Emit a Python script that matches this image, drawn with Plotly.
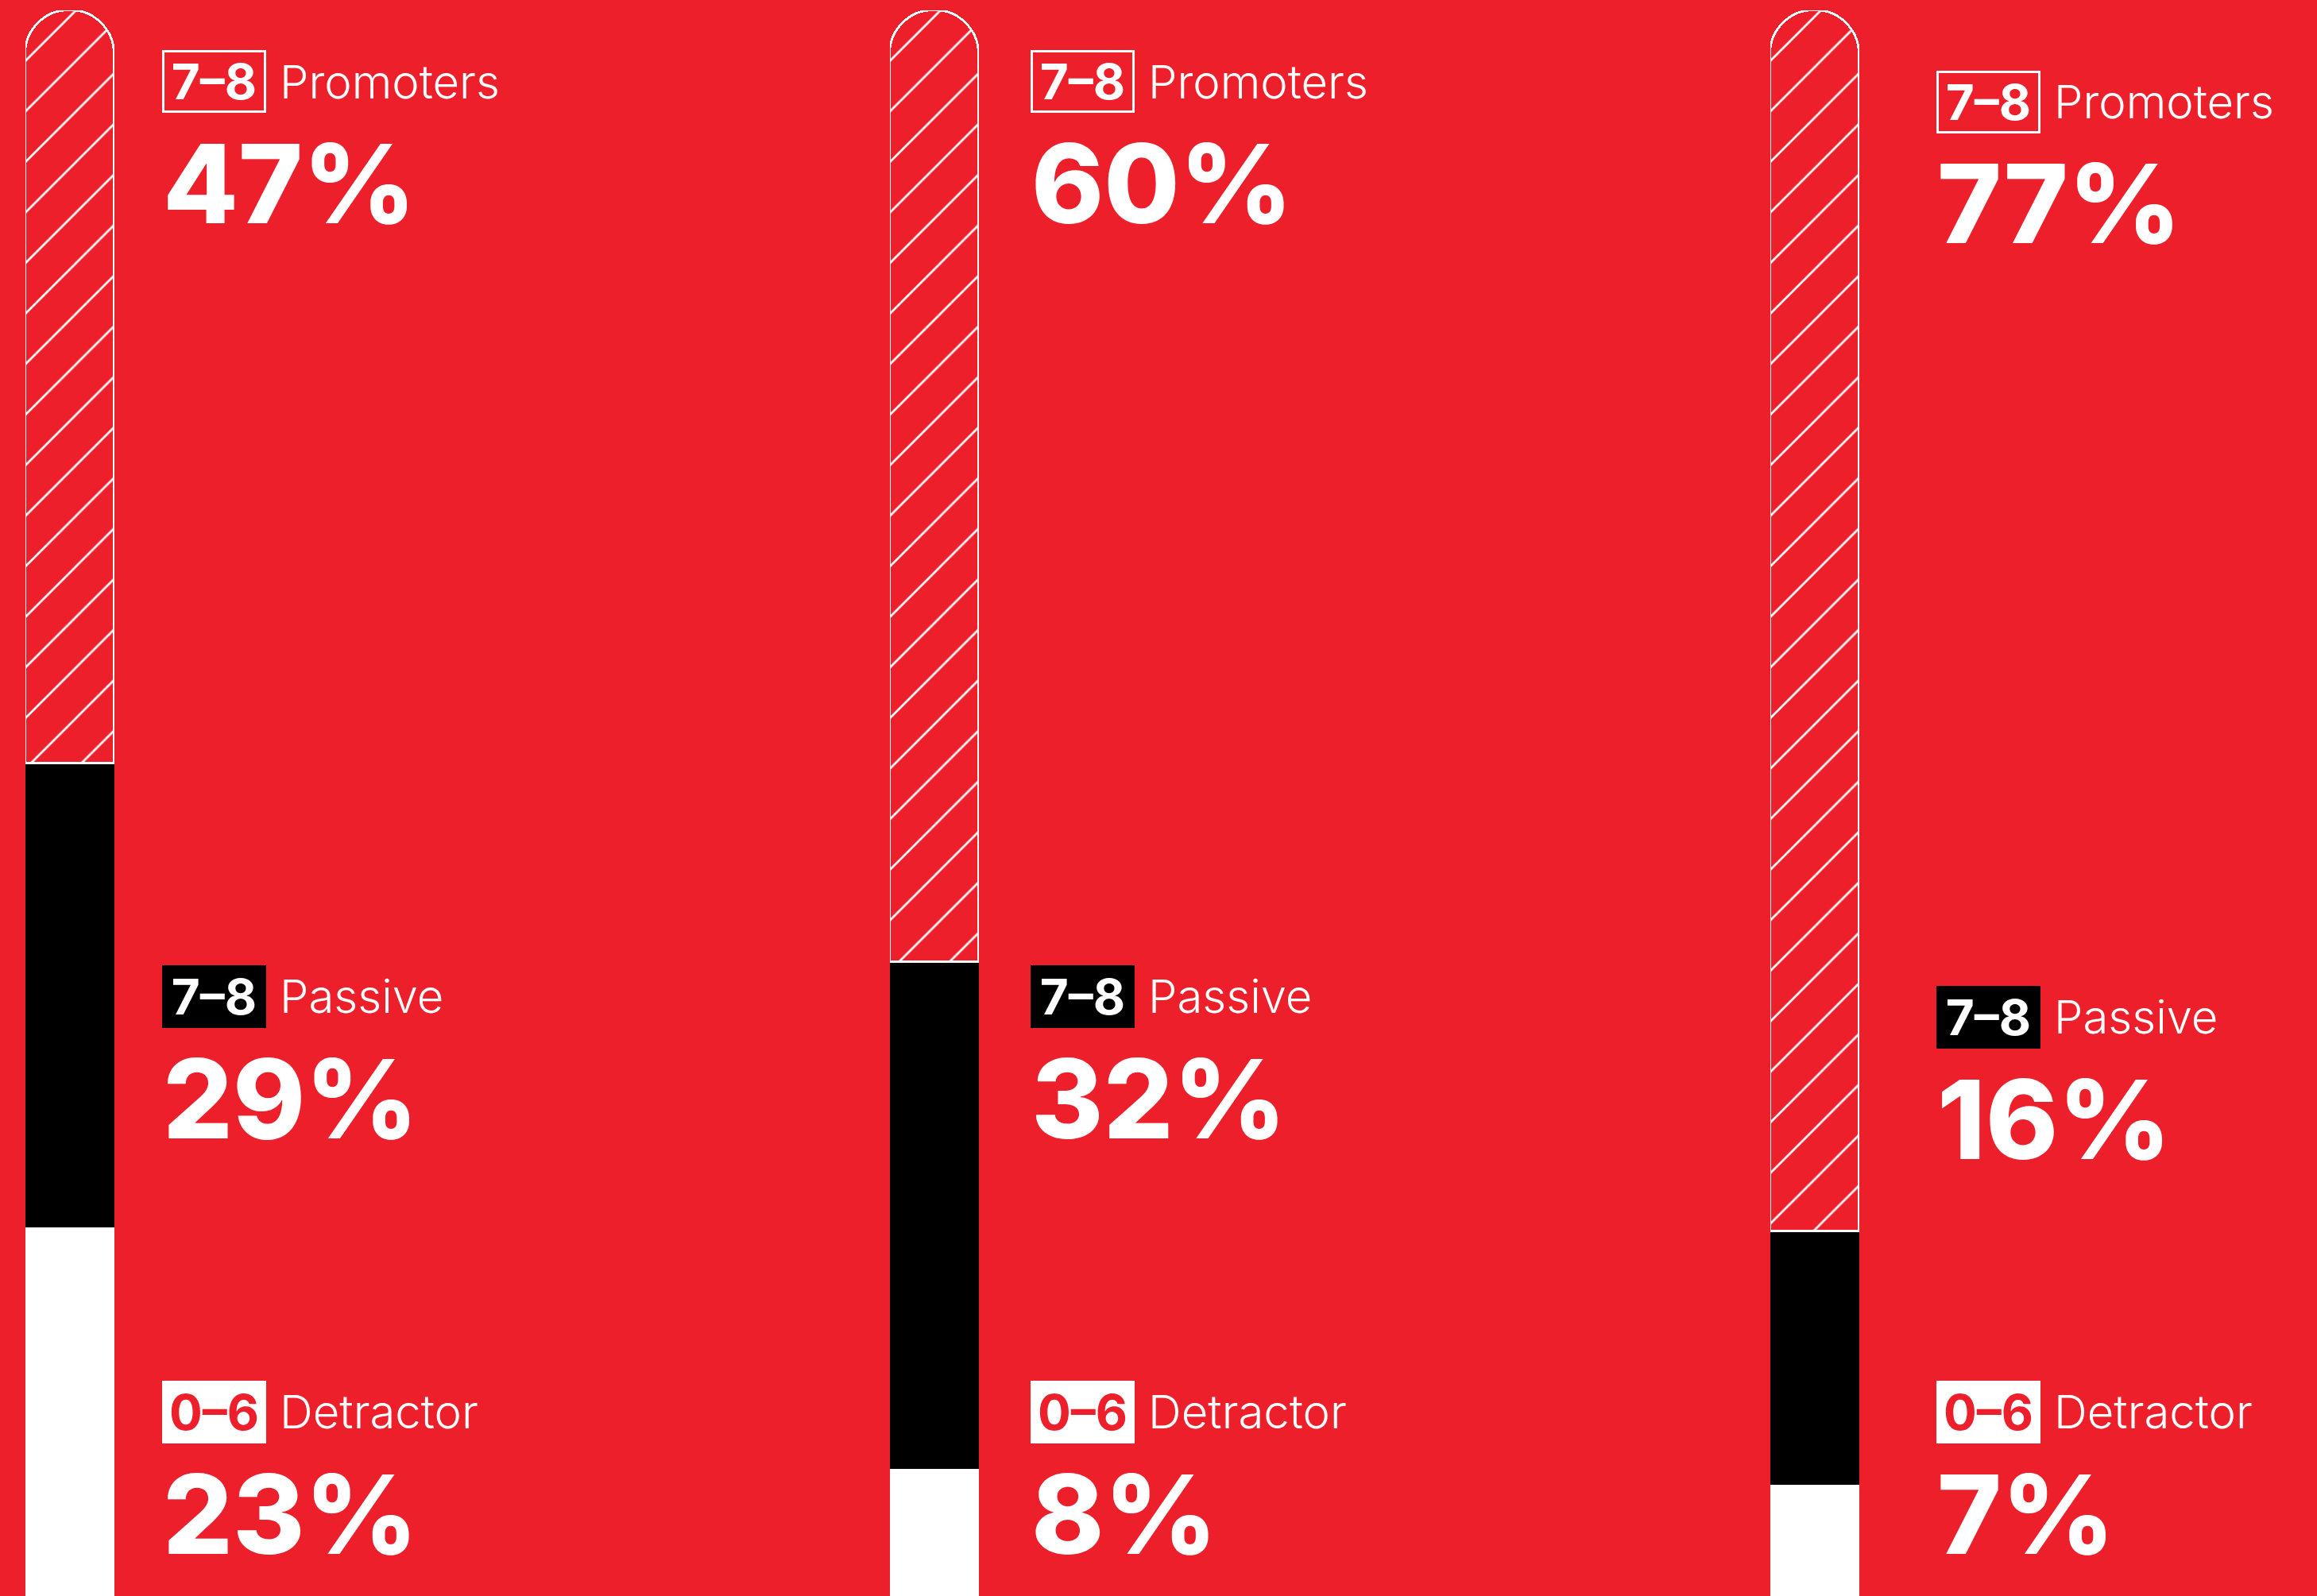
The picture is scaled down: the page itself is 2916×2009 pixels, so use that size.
import plotly.graph_objects as go

# ---- data ----
groups = ["Group 1", "Group 2", "Group 3"]
promoters = [47, 60, 77]
passive = [29, 32, 16]
detractors = [23, 8, 7]
segment_names = ["Promoters", "Passive", "Detractor"]
segment_ranges = ["7–8", "7–8", "0–6"]

# ---- style / layout ----
W, H = 2916, 2009
TOP = 13
RED = "#ED1F2B"
BAR_PX = [(32, 144), (1120, 1232), (2228, 2340)]   # x-axis domains in px
LABEL_LEFT = [204, 1297, 2437]
BOX_CY = [[103, 1254, 1777], [103, 1254, 1777], [128, 1280, 1777]]
PCT_DY = 128
FONT = "Inter"


def py(px):
    """pixel row -> paper coordinate (plot area spans TOP..H)"""
    return 1 - (px - TOP) / (H - TOP)


fig = go.Figure()
for i, g in enumerate(groups):
    xa = "x" if i == 0 else f"x{i+1}"
    fig.add_trace(go.Bar(x=[g], y=[detractors[i]], xaxis=xa, yaxis="y",
                         name="Detractor", showlegend=False,
                         marker=dict(color="white", line=dict(width=0))))
    fig.add_trace(go.Bar(x=[g], y=[passive[i]], xaxis=xa, yaxis="y",
                         name="Passive", showlegend=False,
                         marker=dict(color="black", line=dict(width=0))))
    fig.add_trace(go.Bar(x=[g], y=[promoters[i]], xaxis=xa, yaxis="y",
                         name="Promoters", showlegend=False,
                         marker=dict(color=RED,
                                     line=dict(color="white", width=3),
                                     pattern=dict(shape="/", fgcolor="white", bgcolor=RED,
                                                  size=45, solidity=0.06, fillmode="replace"))))

layout_axes = {}
for i, (a, b) in enumerate(BAR_PX):
    key = "xaxis" if i == 0 else f"xaxis{i+1}"
    layout_axes[key] = dict(domain=[a / W, b / W], visible=False, anchor="y",
                            fixedrange=True)

fig.update_layout(
    width=W, height=H,
    margin=dict(l=0, r=0, t=TOP, b=0, pad=0),
    paper_bgcolor=RED, plot_bgcolor=RED,
    barmode="stack", barnorm="percent", bargap=0,
    barcornerradius="50%",
    showlegend=False,
    yaxis=dict(range=[0, 100], visible=False, domain=[0, 1], anchor="x", fixedrange=True),
    **layout_axes,
)

values = [promoters, passive, detractors]
annotations = []
for i in range(3):
    for j in range(3):
        cy = BOX_CY[i][j]
        if j == 0:
            box = dict(bgcolor="rgba(0,0,0,0)", bordercolor="white", borderwidth=3,
                       width=125, height=73, fc="white")
        elif j == 1:
            box = dict(bgcolor="black", bordercolor="black", borderwidth=0,
                       width=131, height=79, fc="white")
        else:
            box = dict(bgcolor="white", bordercolor="white", borderwidth=0,
                       width=131, height=79, fc=RED)
        annotations.append(dict(
            text=segment_ranges[j], xref="paper", yref="paper",
            x=LABEL_LEFT[i] / W, y=py(cy), xanchor="left", yanchor="middle",
            showarrow=False, align="center", valign="middle",
            width=box["width"], height=box["height"], borderpad=0,
            bgcolor=box["bgcolor"], bordercolor=box["bordercolor"], borderwidth=box["borderwidth"],
            font=dict(family=FONT, size=62, color=box["fc"], weight=700)))
        annotations.append(dict(
            text=segment_names[j], xref="paper", yref="paper",
            x=(LABEL_LEFT[i] + 147) / W, y=py(cy), xanchor="left", yanchor="middle",
            showarrow=False, borderpad=0,
            font=dict(family=FONT, size=58, color="white", weight=300)))
        annotations.append(dict(
            text=f"{values[j][i]}%", xref="paper", yref="paper",
            x=LABEL_LEFT[i] / W, y=py(cy + PCT_DY), xanchor="left", yanchor="middle",
            showarrow=False, borderpad=0,
            font=dict(family=FONT, size=138, color="white", weight=800)))

fig.update_layout(annotations=annotations)
fig.write_html("out.html")
